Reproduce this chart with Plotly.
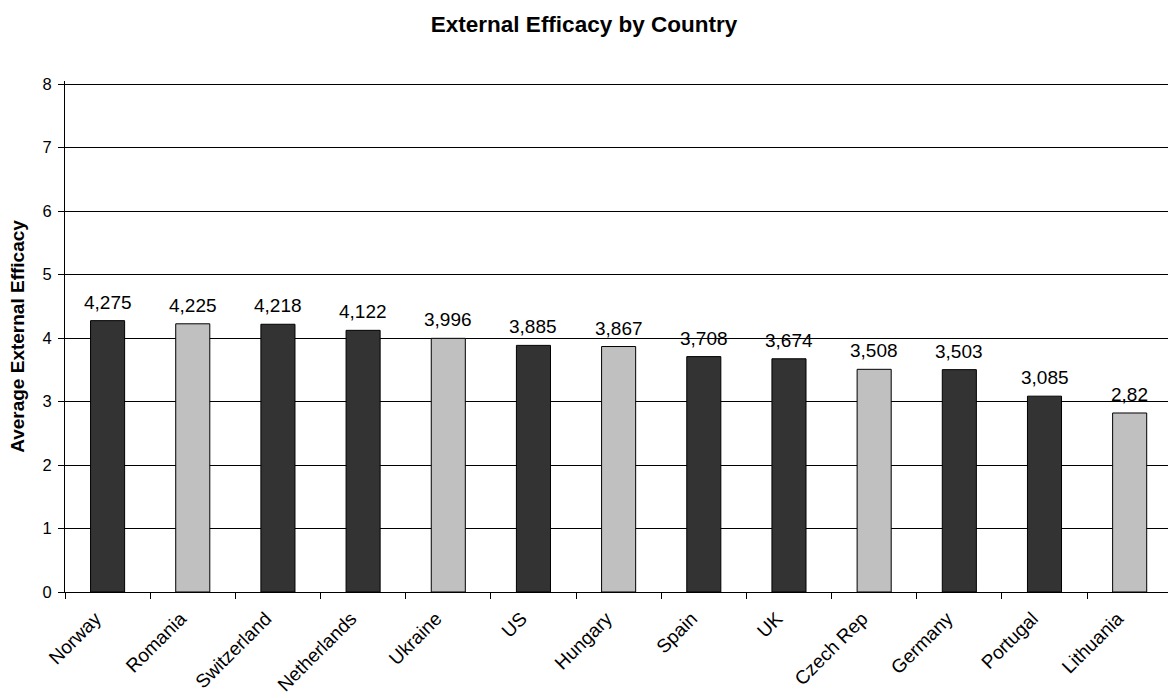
import plotly.graph_objects as go

countries = ["Norway", "Romania", "Switzerland", "Netherlands", "Ukraine", "US", "Hungary",
             "Spain", "UK", "Czech Rep", "Germany", "Portugal", "Lithuania"]
values = [4.275, 4.225, 4.218, 4.122, 3.996, 3.885, 3.867, 3.708, 3.674, 3.508, 3.503, 3.085, 2.82]
shade = ["dark", "light", "dark", "dark", "light", "dark", "light",
         "dark", "dark", "light", "dark", "dark", "light"]
y_ticks = [0, 1, 2, 3, 4, 5, 6, 7, 8]

palette = {"dark": "#333333", "light": "#c0c0c0"}
labels = [f"{v:g}".replace(".", ",") for v in values]

FONT = "Arial, Liberation Sans, sans-serif"

fig = go.Figure()
fig.add_trace(go.Bar(
    x=countries, y=values,
    marker=dict(color=[palette[s] for s in shade], line=dict(color="#000000", width=1)),
    width=0.4,
    hoverinfo="x+y",
))

for c, v, t in zip(countries, values, labels):
    fig.add_annotation(x=c, y=v, text=t, showarrow=False, yanchor="bottom", yshift=6,
                       font=dict(family=FONT, size=19, color="#000000"))

fig.update_layout(
    width=1168, height=698,
    margin=dict(l=65, r=0, t=81, b=106),
    paper_bgcolor="#ffffff", plot_bgcolor="#ffffff",
    showlegend=False,
    font=dict(family=FONT, color="#000000"),
    title=dict(text="<b>External Efficacy by Country</b>", x=0.5, xanchor="center",
               y=1 - 24 / 698, yanchor="middle", font=dict(family=FONT, size=22.5, color="#000000")),
)
fig.update_xaxes(
    type="category", range=[-0.5, 12.45], tickson="boundaries", ticks="outside", ticklen=6,
    tickcolor="#000000", showline=True, linecolor="#000000", linewidth=1, mirror=False,
    showgrid=False, tickangle=-45, tickfont=dict(family=FONT, size=19, color="#000000"),
    ticklabelstandoff=7, ticklabelshift=-12, automargin=False,
)
fig.update_yaxes(
    range=[0, 8.05], tickvals=y_ticks, ticks="outside", ticklen=6, tickcolor="#000000",
    showline=True, linecolor="#000000", linewidth=1,
    showgrid=True, gridcolor="#000000", gridwidth=1, zeroline=False,
    tickfont=dict(family=FONT, size=16.5, color="#000000"), ticklabelstandoff=3,
    title=dict(text="<b>Average External Efficacy</b>", standoff=12,
               font=dict(family=FONT, size=19, color="#000000")),
    automargin=False,
)

fig.write_html("out.html")
